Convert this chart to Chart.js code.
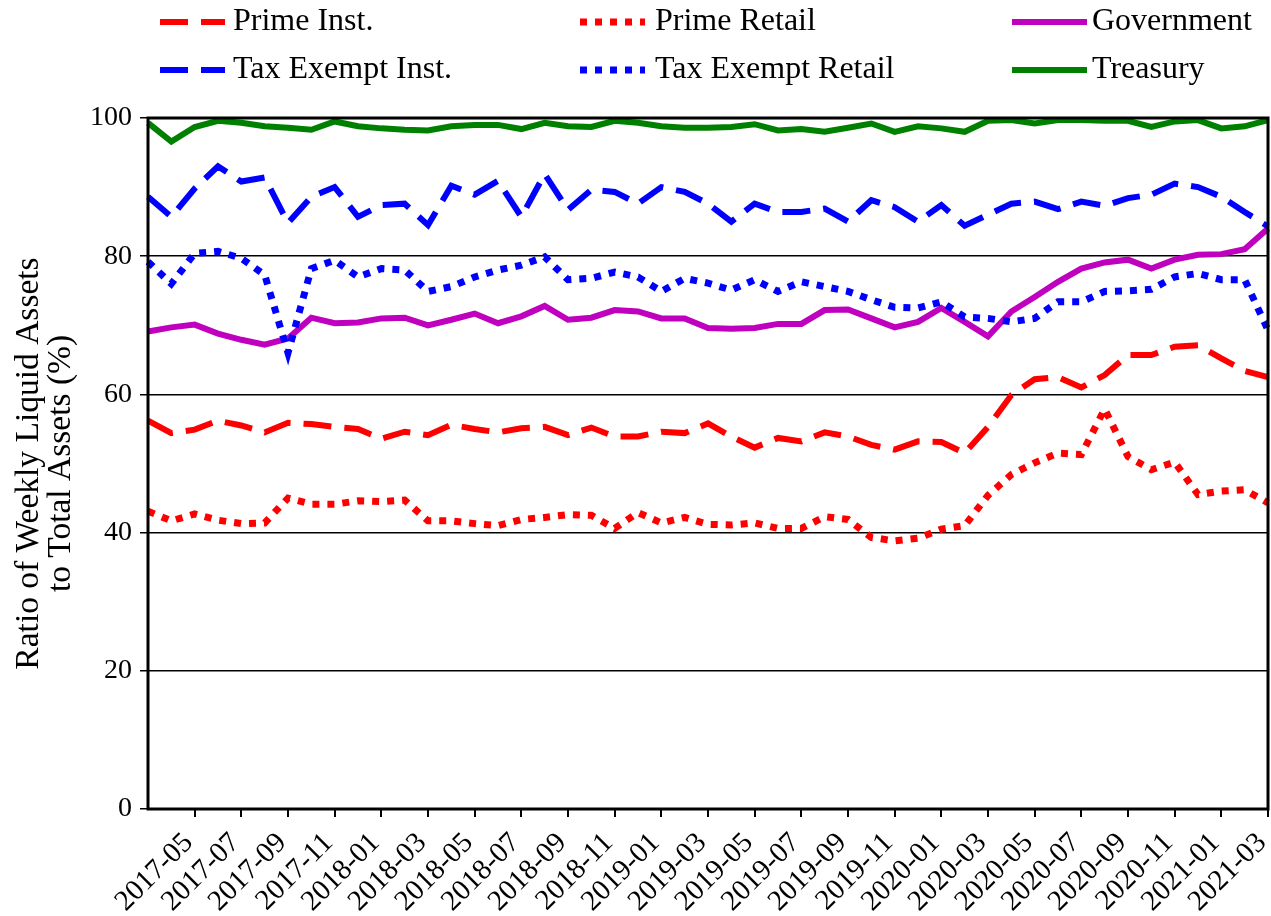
<!DOCTYPE html>
<html>
<head>
<meta charset="utf-8">
<title>Weekly Liquid Assets Ratio</title>
<script src="https://cdn.jsdelivr.net/npm/chart.js@4.4.1/dist/chart.umd.min.js"></script>
<style>
    html, body { margin: 0; padding: 0; background: #fff; overflow: hidden; }
    canvas { display: block; }
</style>
</head>
<body>
<canvas id="wlaChart" width="1271" height="916"></canvas>
<script>
// --- DATA ---
const months = [
    '2017-03', '2017-04', '2017-05', '2017-06', '2017-07', '2017-08', '2017-09', '2017-10', '2017-11', '2017-12',
    '2018-01', '2018-02', '2018-03', '2018-04', '2018-05', '2018-06', '2018-07', '2018-08', '2018-09', '2018-10',
    '2018-11', '2018-12', '2019-01', '2019-02', '2019-03', '2019-04', '2019-05', '2019-06', '2019-07', '2019-08',
    '2019-09', '2019-10', '2019-11', '2019-12', '2020-01', '2020-02', '2020-03', '2020-04', '2020-05', '2020-06',
    '2020-07', '2020-08', '2020-09', '2020-10', '2020-11', '2020-12', '2021-01', '2021-02', '2021-03'
];

const primeInst = [
    56.2, 54.4, 54.9, 56.2, 55.5, 54.5, 55.9, 55.7, 55.3, 55.0,
    53.6, 54.6, 54.1, 55.6, 55.0, 54.5, 55.1, 55.3, 54.1, 55.2,
    53.9, 53.9, 54.6, 54.4, 55.8, 53.9, 52.3, 53.7, 53.2, 54.5,
    53.9, 52.7, 52.0, 53.2, 53.1, 51.5, 55.3, 59.9, 62.2, 62.5,
    61.0, 62.8, 65.7, 65.7, 66.9, 67.1, 65.2, 63.4, 62.5
];
const primeRetail = [
    43.1, 41.7, 42.7, 41.8, 41.3, 41.4, 45.0, 44.1, 44.1, 44.6,
    44.5, 44.7, 41.7, 41.7, 41.3, 41.0, 41.9, 42.2, 42.6, 42.5,
    40.6, 42.9, 41.4, 42.2, 41.2, 41.1, 41.4, 40.6, 40.6, 42.3,
    41.9, 39.3, 38.8, 39.2, 40.5, 41.0, 45.4, 48.4, 50.1, 51.5,
    51.3, 57.9, 51.0, 49.1, 50.2, 45.5, 46.0, 46.2, 44.3
];
const government = [
    69.1, 69.7, 70.1, 68.8, 67.9, 67.2, 68.1, 71.1, 70.3, 70.4,
    71.0, 71.1, 70.0, 70.8, 71.7, 70.3, 71.3, 72.8, 70.8, 71.1,
    72.2, 72.0, 71.0, 71.0, 69.6, 69.5, 69.6, 70.2, 70.2, 72.2,
    72.3, 71.0, 69.7, 70.5, 72.5, 70.5, 68.4, 72.0, 74.1, 76.3,
    78.2, 79.1, 79.5, 78.2, 79.5, 80.2, 80.3, 81.0, 84.0
];
const taxExemptInst = [
    88.6, 85.7, 89.8, 93.0, 90.8, 91.4, 84.8, 88.6, 90.0, 85.7,
    87.4, 87.6, 84.5, 90.2, 88.9, 90.9, 85.7, 91.9, 86.7, 89.6,
    89.3, 87.6, 90.0, 89.3, 87.6, 85.0, 87.6, 86.4, 86.4, 86.9,
    85.0, 88.1, 87.1, 85.0, 87.4, 84.4, 86.0, 87.6, 87.9, 86.8,
    87.9, 87.3, 88.4, 88.9, 90.5, 90.0, 88.6, 86.4, 84.3
];
const taxExemptRetail = [
    79.2, 76.0, 80.4, 80.7, 79.7, 77.3, 66.0, 78.2, 79.4, 77.0,
    78.2, 78.0, 74.9, 75.6, 77.0, 78.0, 78.7, 79.9, 76.6, 76.8,
    77.7, 77.0, 74.9, 76.8, 76.1, 75.1, 76.6, 74.9, 76.3, 75.6,
    74.9, 73.7, 72.6, 72.5, 73.4, 71.2, 71.0, 70.5, 71.0, 73.4,
    73.4, 74.9, 75.0, 75.2, 77.0, 77.5, 76.6, 76.6, 69.3
];
const treasury = [
    99.3, 96.6, 98.7, 99.6, 99.3, 98.8, 98.6, 98.3, 99.5, 98.8,
    98.5, 98.3, 98.2, 98.8, 99.0, 99.0, 98.4, 99.3, 98.8, 98.7,
    99.6, 99.3, 98.8, 98.6, 98.6, 98.7, 99.1, 98.2, 98.4, 98.0,
    98.6, 99.2, 98.0, 98.8, 98.5, 98.0, 99.6, 99.7, 99.2, 99.7,
    99.7, 99.6, 99.6, 98.7, 99.5, 99.7, 98.5, 98.8, 99.7
];

const yTicks = [0, 20, 40, 60, 80, 100];

// --- STYLES ---
const FONT = "'Liberation Serif', 'DejaVu Serif', serif";
const DASHED = [28, 13];
const DOTTED = [7, 8];

const series = [
    { label: 'Prime Inst.',       data: primeInst,       color: '#ff0000', dash: DASHED, width: 6 },
    { label: 'Prime Retail',      data: primeRetail,     color: '#ff0000', dash: DOTTED, width: 7 },
    { label: 'Government',        data: government,      color: '#bf00bf', dash: [],     width: 6 },
    { label: 'Tax Exempt Inst.',  data: taxExemptInst,   color: '#0000ff', dash: DASHED, width: 6 },
    { label: 'Tax Exempt Retail', data: taxExemptRetail, color: '#0000ff', dash: DOTTED, width: 7 },
    { label: 'Treasury',          data: treasury,        color: '#008000', dash: [],     width: 6 }
];

// odd months from 2017-05 on carry a label and a tick mark
function isLabelled(index) {
    return index > 0 && Number(months[index].slice(5)) % 2 === 1;
}

// --- PLUGINS ---
// legend laid out in 3 fixed columns, 2 rows
const gridLegend = {
    id: 'gridLegend',
    afterDraw(chart) {
        const ctx = chart.ctx;
        const cols = [{ x: 160, len: 65, textX: 233 }, { x: 580, len: 65, textX: 655 }, { x: 1012, len: 75, textX: 1092 }];
        const rows = [22, 70];
        ctx.save();
        chart.data.datasets.forEach((ds, i) => {
            const col = cols[i % 3];
            const y = rows[Math.floor(i / 3)];
            ctx.beginPath();
            ctx.setLineDash(ds.borderDash);
            ctx.lineCap = 'butt';
            ctx.lineWidth = ds.borderWidth;
            ctx.strokeStyle = ds.borderColor;
            ctx.moveTo(col.x, y);
            ctx.lineTo(col.x + col.len, y);
            ctx.stroke();
            ctx.setLineDash([]);
            ctx.fillStyle = '#000';
            ctx.font = `32px ${FONT}`;
            ctx.textBaseline = 'middle';
            ctx.textAlign = 'left';
            ctx.fillText(ds.label, col.textX, y);
        });
        ctx.restore();
    }
};

// black frame round the plot area
const plotFrame = {
    id: 'plotFrame',
    afterDatasetsDraw(chart) {
        const { ctx, chartArea: a } = chart;
        ctx.save();
        ctx.strokeStyle = '#000';
        ctx.lineWidth = 3;
        ctx.strokeRect(a.left, a.top, a.right - a.left, a.bottom - a.top);
        ctx.restore();
    }
};

// --- CHART ---
Chart.defaults.font.family = FONT;
Chart.defaults.color = '#000';

new Chart(document.getElementById('wlaChart').getContext('2d'), {
    type: 'line',
    data: {
        labels: months,
        datasets: series.map((s, i) => ({
            label: s.label,
            data: s.data,
            borderColor: s.color,
            backgroundColor: s.color,
            borderWidth: s.width,
            borderDash: s.dash,
            borderCapStyle: 'butt',
            borderJoinStyle: 'miter',
            pointRadius: 0,
            tension: 0,
            fill: false,
            order: series.length - 1 - i
        }))
    },
    options: {
        responsive: false,
        animation: false,
        layout: { padding: { top: 118, right: 3, bottom: 0, left: 0 } },
        plugins: {
            legend: { display: false },
            tooltip: { enabled: false }
        },
        scales: {
            x: {
                type: 'category',
                offset: false,
                border: { display: false },
                grid: {
                    drawOnChartArea: false,
                    drawTicks: true,
                    tickLength: 8,
                    lineWidth: 2,
                    color: '#000',
                    tickColor: c => isLabelled(c.index) ? '#000' : 'rgba(0,0,0,0)'
                },
                ticks: {
                    autoSkip: false,
                    minRotation: 45,
                    maxRotation: 45,
                    padding: 9,
                    labelOffset: -6,
                    font: { size: 29 },
                    callback: (value, index) => isLabelled(index) ? months[index] : ''
                },
                afterFit(scale) {
                    scale.height = 107;
                    scale.paddingLeft = 0;
                    scale.paddingRight = 0;
                }
            },
            y: {
                min: yTicks[0],
                max: yTicks[yTicks.length - 1],
                border: { display: false },
                grid: { color: '#000', lineWidth: 1.5, tickLength: 8 },
                afterBuildTicks(scale) {
                    scale.ticks = yTicks.map(v => ({ value: v }));
                },
                ticks: { padding: 8, font: { size: 28 } },
                title: {
                    display: true,
                    text: ['Ratio of Weekly Liquid Assets', 'to Total Assets (%)'],
                    font: { size: 33.5, lineHeight: 0.95 },
                    padding: { top: 13, bottom: 0 }
                },
                afterFit(scale) {
                    scale.width = 148;
                    scale.paddingTop = 0;
                    scale.paddingBottom = 0;
                }
            }
        }
    },
    plugins: [gridLegend, plotFrame]
});
</script>
</body>
</html>
